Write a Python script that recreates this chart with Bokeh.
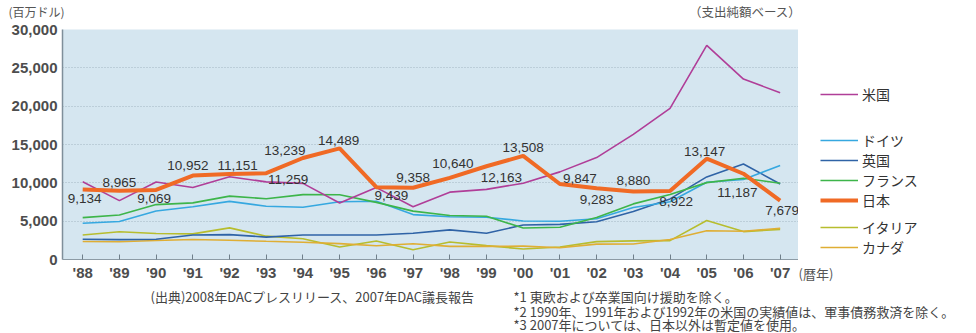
from bokeh.plotting import figure
from bokeh.layouts import column, row
from bokeh.models import (Range1d, FixedTicker, NumeralTickFormatter, Label, Legend,
                          LegendItem, ColumnDataSource, Title)
from bokeh.embed import file_html
from bokeh.resources import INLINE

# ---------------- data ----------------
years = ["'88", "'89", "'90", "'91", "'92", "'93", "'94", "'95", "'96", "'97",
         "'98", "'99", "'00", "'01", "'02", "'03", "'04", "'05", "'06", "'07"]
us = [10141, 7676, 10100, 9400, 10800, 10123, 9927, 7367, 9377, 6878,
      8786, 9145, 9955, 11429, 13290, 16320, 19705, 27935, 23532, 21753]
germany = [4731, 4949, 6320, 6890, 7583, 6954, 6818, 7524, 7601, 5857,
           5581, 5515, 5030, 4990, 5324, 6784, 7534, 10082, 10435, 12267]
uk = [2645, 2587, 2638, 3201, 3243, 2920, 3197, 3202, 3199, 3433,
      3864, 3426, 4501, 4579, 4924, 6262, 7905, 10772, 12459, 9849]
france = [5463, 5802, 7163, 7386, 8270, 7915, 8466, 8443, 7451, 6307,
          5742, 5639, 4105, 4198, 5486, 7253, 8473, 10026, 10601, 9940]
japan = [9134, 8965, 9069, 10952, 11151, 11259, 13239, 14489, 9439, 9358,
         10640, 12163, 13508, 9847, 9283, 8880, 8922, 13147, 11187, 7679]
italy = [3193, 3613, 3395, 3347, 4122, 3043, 2705, 1623, 2416, 1266,
         2278, 1806, 1376, 1627, 2332, 2433, 2462, 5091, 3641, 3929]
canada = [2347, 2320, 2470, 2604, 2515, 2373, 2250, 2067, 1795, 2045,
          1707, 1706, 1744, 1533, 2004, 2031, 2599, 3756, 3684, 4080]
y_ticks = [0, 5000, 10000, 15000, 20000, 25000, 30000]
series_names = ["米国", "ドイツ", "英国", "フランス", "日本", "イタリア", "カナダ"]
series_colors = ["#b03e98", "#36a8e0", "#2f63a6", "#3db54a", "#f06a25", "#b7bd2e", "#dfae34"]

# label offsets (screen px) for the Japan value labels
label_dx = [2, 0, -2, -5, 8, 22, -18, -1, 15, 0, 3, 15, 0, 20, 0, 0, 6, -2, -6, 2]
label_dy = [9, -8, 9, -10, -9, 6, -8, -8, 8, -10, -14, 11, -8, -6, 11, -11, 10, -7, 19, 10]

xs = list(range(len(years)))
JP_FONT = "Noto Sans CJK JP"
NAN = float("nan")

# canvas geometry
TOP_H = 20                 # top text strip
FRAME_TOP, FRAME_BOTTOM = 29, 259
MAIN_W = 798
MAIN_H = 285 - TOP_H
BT = FRAME_TOP - TOP_H     # main top border
BB = TOP_H + MAIN_H - FRAME_BOTTOM  # main bottom border


def blank_fig(w, h, top=0, bottom=0, yr=None):
    f = figure(width=w, height=h, output_backend="svg", toolbar_location=None,
               x_range=Range1d(0, w), y_range=yr or Range1d(h, 0),
               x_axis_location=None, y_axis_location=None,
               min_border_left=0, min_border_right=0,
               min_border_top=top, min_border_bottom=bottom)
    f.outline_line_color = None
    f.background_fill_color = "white"
    f.border_fill_color = "white"
    f.xgrid.visible = False
    f.ygrid.visible = False
    return f


def add_label(f, text, px, py, align="left", size="13px", color="#444444"):
    f.add_layout(Label(x=px, y=py, text=text, text_align=align,
                       text_baseline="middle", text_font=JP_FONT,
                       text_font_size=size, text_color=color))


# ---------------- top strip ----------------
p_top = blank_fig(976, TOP_H)
add_label(p_top, "(百万ドル)", 8, 11, size="12px", color="#555555")
add_label(p_top, "（支出純額ベース）", 801, 10.5, align="right", size="12.5px", color="#555555")

# ---------------- main chart ----------------
X0, X1 = -0.55, 19.5
p = figure(width=MAIN_W, height=MAIN_H, output_backend="svg", toolbar_location=None,
           x_range=Range1d(X0, X1), y_range=Range1d(0, 30000),
           min_border_left=62, min_border_right=0, min_border_top=BT,
           min_border_bottom=BB)
p.background_fill_color = "#d5e6f0"
p.border_fill_color = "white"
p.outline_line_color = None

p.xaxis.ticker = FixedTicker(ticks=xs)
p.xaxis.major_label_overrides = {i: t for i, t in enumerate(years)}
p.xaxis.major_tick_in = 5
p.xaxis.major_tick_out = 0
p.xaxis.minor_tick_line_color = None
p.xaxis.axis_line_color = "#8c9ba5"
p.xaxis.major_tick_line_color = "#6f7f8a"
p.xaxis.major_label_standoff = 4
p.yaxis.ticker = FixedTicker(ticks=y_ticks)
p.yaxis.formatter = NumeralTickFormatter(format="0,0")
p.yaxis.major_tick_in = 0
p.yaxis.major_tick_out = 0
p.yaxis.minor_tick_line_color = None
p.yaxis.axis_line_color = "#7f8f9a"
p.yaxis.axis_line_width = 1.5
p.yaxis.major_label_standoff = 5
for ax in (p.xaxis, p.yaxis):
    ax.major_label_text_font = "Liberation Sans"
    ax.major_label_text_font_style = "bold"
    ax.major_label_text_font_size = "15px"
    ax.major_label_text_color = "#4d4d4d"

p.xgrid.grid_line_color = None
p.ygrid.grid_line_color = "#a3b6c2"
p.ygrid.grid_line_dash = "1 2"
p.ygrid.grid_line_width = 1

series = dict(zip(series_names, [us, germany, uk, france, japan, italy, canada]))
colors = dict(zip(series_names, series_colors))
draw_order = ["イタリア", "カナダ", "英国", "ドイツ", "フランス", "米国", "日本"]
for name in draw_order:
    p.line(xs, series[name], line_color=colors[name],
           line_width=4 if name == "日本" else 1.6)

src = ColumnDataSource(dict(x=xs, y=japan, t=[f"{v:,}" for v in japan],
                            dx=label_dx, dy=label_dy))
p.text(x="x", y="y", text="t", x_offset="dx", y_offset="dy", source=src,
       text_align="center", text_baseline="middle", text_font_size="13.5px",
       text_font={"value": "Liberation Sans"}, text_color="#333333")

# ---------------- legend strip on the right ----------------
LEG_W = 976 - MAIN_W
p_leg = blank_fig(LEG_W, MAIN_H, top=BT, bottom=BB,
                  yr=Range1d(FRAME_BOTTOM, FRAME_TOP))
dummies = {}
for name in series_names:
    dummies[name] = p_leg.line(x=[NAN], y=[NAN], line_color=colors[name],
                               line_width=4 if name == "日本" else 1.6)


def mk_legend(names, bottom_canvas_y):
    lg = Legend(items=[LegendItem(label=n, renderers=[dummies[n]]) for n in names],
                location=(820 - MAIN_W, FRAME_BOTTOM - bottom_canvas_y))
    lg.glyph_width = 38
    lg.glyph_height = 20
    lg.label_height = 20
    lg.spacing = 0
    lg.padding = 0
    lg.margin = 0
    lg.label_standoff = 4
    lg.border_line_color = None
    lg.background_fill_alpha = 0
    lg.label_text_font = JP_FONT
    lg.label_text_font_size = "14px"
    lg.label_text_color = "#333333"
    lg.label_text_baseline = "middle"
    p_leg.add_layout(lg)


mk_legend(["米国"], 104)
mk_legend(["ドイツ", "英国", "フランス", "日本"], 209.5)
mk_legend(["イタリア", "カナダ"], 256.5)
p_leg.add_layout(Title(text="(暦年)", align="left", text_font=JP_FONT,
                       text_font_size="13px", text_font_style="normal",
                       text_color="#555555", standoff=4), "below")

# ---------------- notes strip ----------------
NOTE_H = 333 - TOP_H - MAIN_H
p_note = blank_fig(976, NOTE_H)
base = TOP_H + MAIN_H
add_label(p_note, "(出典)2008年DACプレスリリース、2007年DAC議長報告", 150, 296 - base)
add_label(p_note, "*1 東欧および卒業国向け援助を除く。", 513, 296 - base)
add_label(p_note, "*2 1990年、1991年および1992年の米国の実績値は、軍事債務救済を除く。", 513, 311 - base)
add_label(p_note, "*3 2007年については、日本以外は暫定値を使用。", 513, 324 - base)

layout = column(p_top, row(p, p_leg), p_note, spacing=0)
open("out.html", "w").write(file_html(layout, INLINE))
